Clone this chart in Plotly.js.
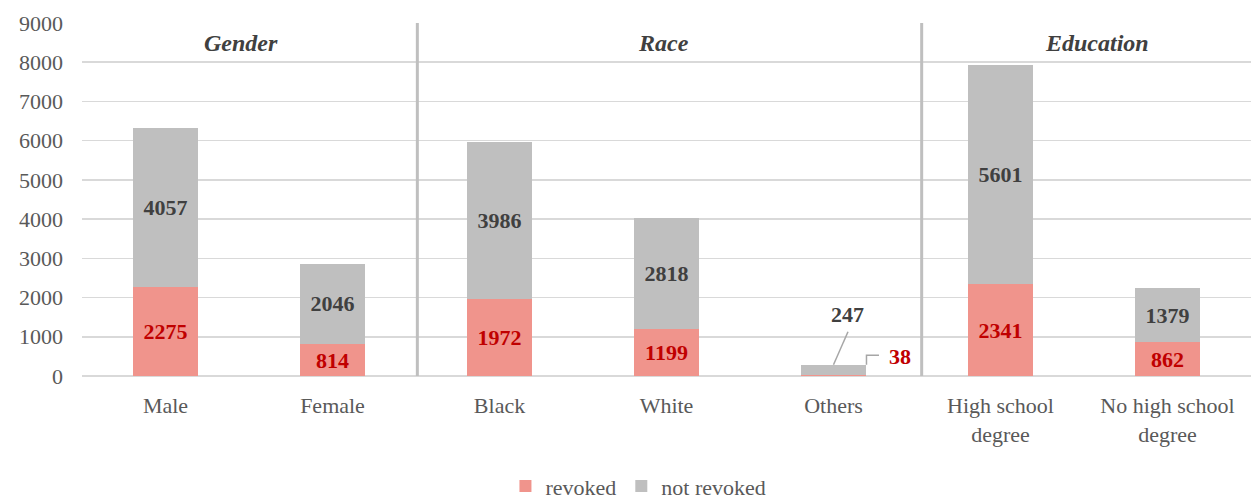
<!DOCTYPE html>
<html>
<head>
<meta charset="utf-8">
<script src="https://cdn.plot.ly/plotly-3.0.1.min.js"></script>
<style>html,body{margin:0;padding:0;background:#fff;}#chart{width:1252px;height:500px;}</style>
</head>
<body>
<div id="chart"></div>
<script>
const categories = ["Male", "Female", "Black", "White", "Others", "High school<br>degree", "No high school<br>degree"];
const revoked = [2275, 814, 1972, 1199, 38, 2341, 862];
const notRevoked = [4057, 2046, 3986, 2818, 247, 5601, 1379];
const groups = ["Gender", "Race", "Education"];
const seriesNames = ["revoked", "not revoked"];
const yTicks = [0, 1000, 2000, 3000, 4000, 5000, 6000, 7000, 8000, 9000];

const FONT = "Liberation Serif";
const xIdx = categories.map((c, i) => i);
const othersIdx = categories.indexOf("Others");
const barW = 0.395;
const pxX = 1 / 167.1;   // data units per pixel (x)
const pxY = 25.54;       // data units per pixel (y)

const traces = [
  {
    type: "bar", name: seriesNames[0], x: xIdx, y: revoked, width: barW,
    marker: {color: "#f0948c"},
    text: revoked.map((v, i) => i === othersIdx ? "" : String(v)),
    textposition: "inside", insidetextanchor: "middle", textangle: 0,
    constraintext: "none",
    textfont: {family: FONT, size: 22, color: "#c00000", weight: "bold"},
    hoverinfo: "skip"
  },
  {
    type: "bar", name: seriesNames[1], x: xIdx, y: notRevoked, width: barW,
    marker: {color: "#bfbfbf"},
    text: notRevoked.map((v, i) => i === othersIdx ? "" : String(v)),
    textposition: "inside", insidetextanchor: "middle", textangle: 0,
    constraintext: "none",
    textfont: {family: FONT, size: 22, color: "#404040", weight: "bold"},
    hoverinfo: "skip"
  }
];

const othersTop = revoked[othersIdx] + notRevoked[othersIdx];
const shapes = [
  {type: "line", xref: "x", yref: "paper", x0: 1.508, x1: 1.508, y0: 0, y1: 1, line: {color: "#bfbfbf", width: 3}},
  {type: "line", xref: "x", yref: "paper", x0: 4.528, x1: 4.528, y0: 0, y1: 1, line: {color: "#bfbfbf", width: 3}},
  {type: "line", xref: "x", yref: "y", x0: othersIdx, y0: othersTop, x1: othersIdx + 14.5 * pxX, y1: othersTop + 33 * pxY, line: {color: "#a6a6a6", width: 1.5}},
  {type: "path", xref: "x", yref: "y",
   path: "M " + (othersIdx + barW / 2) + "," + othersTop + " L " + (othersIdx + barW / 2) + "," + (othersTop + 9.5 * pxY) + " L " + (othersIdx + barW / 2 + 12.5 * pxX) + "," + (othersTop + 9.5 * pxY),
   line: {color: "#a6a6a6", width: 1.5}}
];

const annotations = [
  {text: "<b><i>" + groups[0] + "</i></b>", x: 0.455, y: 0.9435},
  {text: "<b><i>" + groups[1] + "</i></b>", x: 2.98, y: 0.9435},
  {text: "<b><i>" + groups[2] + "</i></b>", x: 5.58, y: 0.9435}
].map(a => Object.assign({xref: "x", yref: "paper", xanchor: "center", yanchor: "middle", showarrow: false, font: {family: FONT, size: 24, color: "#404040"}}, a));

annotations.push({
  xref: "x", yref: "y", x: othersIdx + 14.5 * pxX, y: othersTop + 50 * pxY, showarrow: false,
  xanchor: "center", yanchor: "middle",
  text: "<b>" + notRevoked[othersIdx] + "</b>", font: {family: FONT, size: 22, color: "#404040"}
});
annotations.push({
  xref: "x", yref: "y", x: othersIdx + 66.5 * pxX, y: othersTop + 8 * pxY, showarrow: false,
  xanchor: "center", yanchor: "middle",
  text: "<b>" + revoked[othersIdx] + "</b>", font: {family: FONT, size: 22, color: "#c00000"}
});

const layout = {
  width: 1252, height: 500,
  margin: {l: 82, r: 1, t: 23, b: 124, pad: 0, autoexpand: false},
  paper_bgcolor: "#ffffff", plot_bgcolor: "#ffffff",
  barmode: "stack",
  showlegend: true,
  font: {family: FONT, size: 22, color: "#595959"},
  legend: {
    orientation: "h", x: 0.476, xanchor: "center", y: -0.312, yanchor: "middle",
    font: {family: FONT, size: 22, color: "#595959"},
    traceorder: "normal", itemclick: false, itemdoubleclick: false
  },
  xaxis: {
    range: [-0.5, 6.5], tickmode: "array", tickvals: xIdx, ticktext: categories,
    showgrid: false, zeroline: false, showline: false, ticks: "",
    ticklabelstandoff: 14, automargin: false,
    tickfont: {family: FONT, size: 22, color: "#595959"}, fixedrange: true
  },
  yaxis: {
    range: [0, 9000], tickmode: "array", tickvals: yTicks, ticktext: yTicks.map(String),
    showgrid: true, gridcolor: "#d9d9d9", gridwidth: 1.5,
    zeroline: true, zerolinecolor: "#d9d9d9", zerolinewidth: 2,
    showline: false, ticks: "", ticklabelstandoff: 18, automargin: false,
    tickfont: {family: FONT, size: 22, color: "#595959"}, fixedrange: true
  },
  shapes: shapes,
  annotations: annotations
};

Plotly.newPlot("chart", traces, layout, {displayModeBar: false, staticPlot: true});
</script>
</body>
</html>
